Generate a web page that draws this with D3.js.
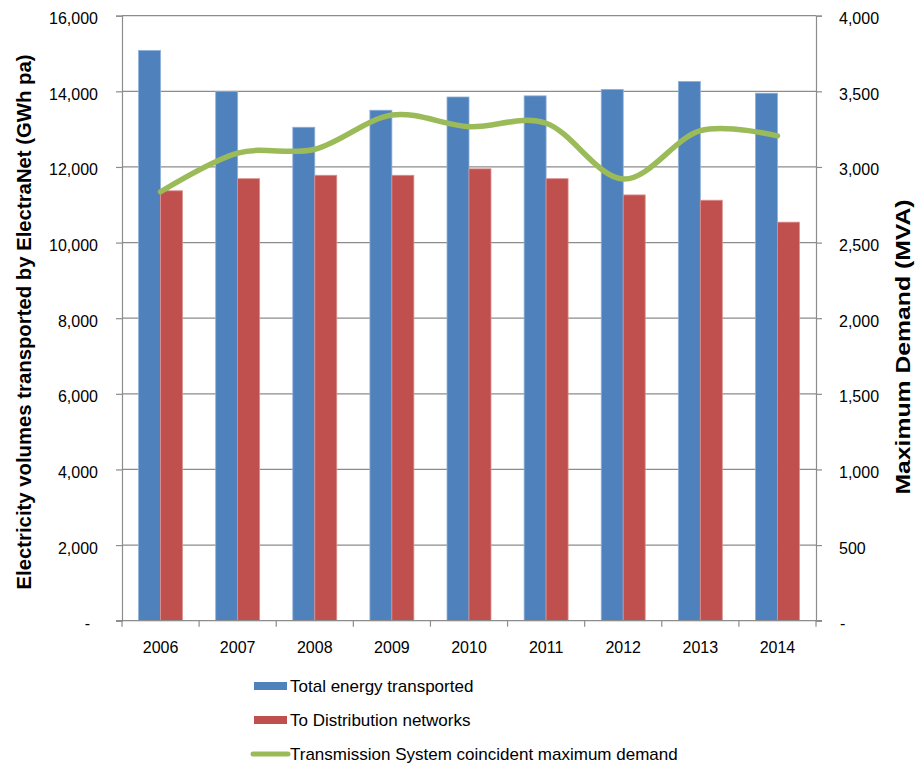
<!DOCTYPE html>
<html>
<head>
<meta charset="utf-8">
<script src="https://cdn.jsdelivr.net/npm/d3@7"></script>
<style>
  html, body { margin: 0; padding: 0; background: #fff; }
  svg text { font-family: "Liberation Sans", Arial, sans-serif; fill: #000; }
</style>
</head>
<body>
<svg id="chart" width="916" height="766"></svg>
<script>
// Annual volumes (GWh) and coincident maximum demand (MVA)
const years = ["2006", "2007", "2008", "2009", "2010", "2011", "2012", "2013", "2014"];
const totalEnergy = [15080, 14000, 13050, 13500, 13850, 13880, 14050, 14260, 13950];
const toDistribution = [11370, 11690, 11780, 11780, 11950, 11690, 11260, 11120, 10540];
const maxDemand = [2836, 3092, 3117, 3343, 3266, 3289, 2920, 3240, 3205];

const leftTicks = [0, 2000, 4000, 6000, 8000, 10000, 12000, 14000, 16000];
const rightTicks = [0, 500, 1000, 1500, 2000, 2500, 3000, 3500, 4000];

const seriesNames = ["Total energy transported", "To Distribution networks", "Transmission System coincident maximum demand"];
const colors = { total: "#4F81BD", dist: "#C0504D", demand: "#9BBB59" };

const svg = d3.select("#chart");
const plot = { left: 122, right: 816, top: 15.7, bottom: 620.7 };
const gridColor = "#8c8c8c";

const x = d3.scaleBand().domain(years).range([plot.left, plot.right]).paddingInner(0).paddingOuter(0);
const yLeft = d3.scaleLinear().domain([0, 16000]).range([plot.bottom, plot.top]);
const yRight = d3.scaleLinear().domain([0, 4000]).range([plot.bottom, plot.top]);

const barW = x.bandwidth() * 0.285;
const fmt = d3.format(",");

// horizontal gridlines
svg.append("g").selectAll("line").data(leftTicks.filter(d => d > 0)).join("line")
  .attr("x1", plot.left).attr("x2", plot.right)
  .attr("y1", d => yLeft(d)).attr("y2", d => yLeft(d))
  .attr("stroke", gridColor).attr("stroke-width", 1.2);

// bars
const bars = svg.append("g");
bars.selectAll("rect.total").data(years).join("rect")
  .attr("class", "total")
  .attr("x", d => x(d) + x.bandwidth() / 2 - barW)
  .attr("y", (d, i) => yLeft(totalEnergy[i]))
  .attr("width", barW)
  .attr("height", (d, i) => yLeft(0) - yLeft(totalEnergy[i]))
  .attr("fill", colors.total).attr("stroke", "#8fb0d8").attr("stroke-width", 0.8);
bars.selectAll("rect.dist").data(years).join("rect")
  .attr("class", "dist")
  .attr("x", d => x(d) + x.bandwidth() / 2)
  .attr("y", (d, i) => yLeft(toDistribution[i]))
  .attr("width", barW)
  .attr("height", (d, i) => yLeft(0) - yLeft(toDistribution[i]))
  .attr("fill", colors.dist).attr("stroke", "#dc8f8d").attr("stroke-width", 0.8);

// left axis
const leftAxis = d3.axisLeft(yLeft).tickValues(leftTicks).tickSize(6).tickPadding(18)
  .tickFormat(d => d === 0 ? "" : fmt(d));
const gL = svg.append("g").attr("transform", `translate(${plot.left},0)`).call(leftAxis);
gL.select(".domain").attr("stroke", gridColor).attr("stroke-width", 1.2);
gL.selectAll(".tick line").attr("stroke", gridColor).attr("stroke-width", 1.2);
gL.selectAll(".tick text").attr("font-size", 16).attr("font-family", "Liberation Sans, Arial, sans-serif").attr("dy", "0.5em");
gL.append("text").attr("x", -32).attr("y", yLeft(0)).attr("dy", "0.5em")
  .attr("text-anchor", "end").attr("font-size", 16).text("-");

// right axis
const rightAxis = d3.axisRight(yRight).tickValues(rightTicks).tickSize(6).tickPadding(17)
  .tickFormat(d => d === 0 ? "" : fmt(d));
const gR = svg.append("g").attr("transform", `translate(${plot.right},0)`).call(rightAxis);
gR.select(".domain").attr("stroke", gridColor).attr("stroke-width", 1.2);
gR.selectAll(".tick line").attr("stroke", gridColor).attr("stroke-width", 1.2);
gR.selectAll(".tick text").attr("font-size", 16).attr("font-family", "Liberation Sans, Arial, sans-serif").attr("dy", "0.5em");
gR.append("text").attr("x", 24).attr("y", yRight(0)).attr("dy", "0.5em")
  .attr("text-anchor", "start").attr("font-size", 16).text("-");

// bottom axis: ticks on category boundaries, labels centred in each band
const gB = svg.append("g");
gB.append("line").attr("x1", plot.left - 6).attr("x2", plot.right + 6)
  .attr("y1", plot.bottom).attr("y2", plot.bottom)
  .attr("stroke", gridColor).attr("stroke-width", 1.2);
const bounds = years.map(d => x(d)).concat([plot.right]);
gB.selectAll("line.tk").data(bounds).join("line").attr("class", "tk")
  .attr("x1", d => d).attr("x2", d => d)
  .attr("y1", plot.bottom).attr("y2", plot.bottom + 6)
  .attr("stroke", gridColor).attr("stroke-width", 1.2);
gB.selectAll("text").data(years).join("text")
  .attr("x", d => x(d) + x.bandwidth() / 2).attr("y", 653)
  .attr("text-anchor", "middle").attr("font-size", 16).text(d => d);

// maximum demand line (smoothed)
const line = d3.line()
  .x((d, i) => x(years[i]) + x.bandwidth() / 2)
  .y(d => yRight(d))
  .curve(d3.curveCatmullRom.alpha(0));
svg.append("path").datum(maxDemand)
  .attr("d", line).attr("fill", "none")
  .attr("stroke", colors.demand).attr("stroke-width", 5.5)
  .attr("stroke-linecap", "round").attr("stroke-linejoin", "round");

// axis titles
svg.append("text")
  .attr("transform", "translate(31,322) rotate(-90)")
  .attr("text-anchor", "middle").attr("font-size", 20).attr("font-weight", "bold")
  .attr("textLength", 535).attr("lengthAdjust", "spacingAndGlyphs")
  .text("Electricity volumes transported by ElectraNet (GWh pa)");
svg.append("text")
  .attr("transform", "translate(910,347) rotate(-90)")
  .attr("text-anchor", "middle").attr("font-size", 20).attr("font-weight", "bold")
  .attr("textLength", 295).attr("lengthAdjust", "spacingAndGlyphs")
  .text("Maximum Demand (MVA)");

// legend
const legend = svg.append("g");
const legendRows = [
  { name: seriesNames[0], color: colors.total, type: "rect", y: 686 },
  { name: seriesNames[1], color: colors.dist, type: "rect", y: 720 },
  { name: seriesNames[2], color: colors.demand, type: "line", y: 754 }
];
legendRows.forEach(r => {
  if (r.type === "rect") {
    legend.append("rect").attr("x", 254).attr("y", r.y - 4).attr("width", 33).attr("height", 8).attr("fill", r.color);
  } else {
    legend.append("line").attr("x1", 253).attr("x2", 288).attr("y1", r.y).attr("y2", r.y)
      .attr("stroke", r.color).attr("stroke-width", 5).attr("stroke-linecap", "round");
  }
  legend.append("text").attr("x", 290).attr("y", r.y).attr("dy", "0.36em")
    .attr("font-size", 17).text(r.name);
});
</script>
</body>
</html>
